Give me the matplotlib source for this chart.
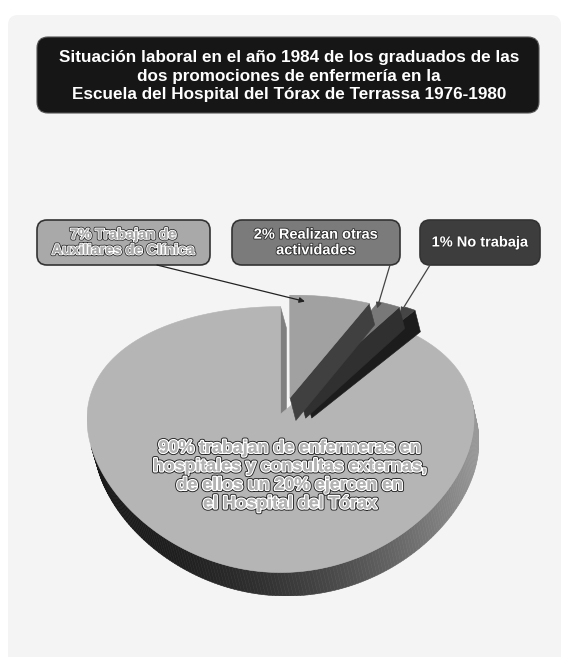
import numpy as np
import matplotlib
matplotlib.use("Agg")
import matplotlib.pyplot as plt
from matplotlib.patches import Polygon, FancyBboxPatch
import matplotlib.patheffects as pe

plt.rcParams['font.family'] = ['Liberation Sans', 'DejaVu Sans']

# data: shares clockwise from 12 o'clock
title = ("Situación laboral en el año 1984 de los graduados de las\n"
         "dos promociones de enfermería en la\n"
         "Escuela del Hospital del Tórax de Terrassa 1976-1980")
labels = ["7% Trabajan de\nAuxiliares de Clínica",
          "2% Realizan otras\nactividades",
          "1% No trabaja",
          "90% trabajan de enfermeras en\nhospitales y consultas externas,\n"
          "de ellos un 20% ejercen en\nel Hospital del Tórax"]
shares = [7, 2, 1, 90]

# style
top_grays = [0.63, 0.47, 0.27, 0.71]
box_fills = ["#a9a9a9", "#7b7b7b", "#3d3d3d"]
explode = [0.14, 0.18, 0.20, 0.0]
explode_turn = [-8, -5, -7, 0]
draw_order = [3, 2, 1, 0]
ELEV = np.radians(40)
DIST = 4.0
HPERSP = 0.2
SHEAR = 0.2
THICK = 0.154


def proj(p):
    x, y, z = p
    u = z * np.cos(ELEV) + y * np.sin(ELEV)
    d = y * np.cos(ELEV) - z * np.sin(ELEV)
    f = DIST / (DIST + d)
    return (x * f ** HPERSP - SHEAR * z, u * f)


def wall_shade(t):
    c = np.cos(t)
    return float(np.clip(0.22 + 0.25 * c + 0.13 * c * c, 0.04, 1))


def facing(pts):
    xy = np.array([proj(p) for p in pts])
    x, y = xy[:, 0], xy[:, 1]
    return 0.5 * np.sum(x * np.roll(y, -1) - np.roll(x, -1) * y) > 0


fig = plt.figure(figsize=(5.64, 6.57), dpi=100)
fig.patch.set_facecolor("white")
bg = fig.add_axes([0, 0, 1, 1])
bg.set_xlim(0, 564)
bg.set_ylim(657, 0)
bg.axis("off")

bg.add_patch(FancyBboxPatch((8, 15), 553, 680, boxstyle="round,pad=0,rounding_size=10",
                            fc="#f4f4f4", ec="none"))
bg.add_patch(FancyBboxPatch((37, 37), 502, 76, boxstyle="round,pad=0,rounding_size=11",
                            fc="#161616", ec="#555555", lw=0.8))
bg.text(289, 76, title, ha="center", va="center", color="white", fontsize=12.3,
        fontweight="bold", linespacing=1.3)

# build pie polygons, one list per slice
bounds = 90 - np.cumsum([0] + shares) * 3.6
slice_polys = []
targets = []
for i, s in enumerate(shares):
    a_hi, a_lo = np.radians(bounds[i]), np.radians(bounds[i + 1])
    mid = (a_hi + a_lo) / 2
    ed = mid + np.radians(explode_turn[i])
    off = explode[i] * np.array([np.cos(ed), np.sin(ed), 0])
    g = top_grays[i]
    apex = off.copy()
    apex_b = off + np.array([0, 0, -THICK])
    n = max(4, int(abs(bounds[i] - bounds[i + 1])))
    th = np.linspace(a_lo, a_hi, n + 1)

    def rim(t, z):
        return off + np.array([np.cos(t), np.sin(t), z])

    polys = []
    for k in range(n):
        t0, t1 = th[k], th[k + 1]
        quad = [rim(t0, 0), rim(t0, -THICK), rim(t1, -THICK), rim(t1, 0)]
        if facing(quad):
            col = wall_shade((t0 + t1) / 2) * g / 0.71
            polys.append((quad, (col, col, col)))
    face_hi = [apex, rim(a_hi, 0), rim(a_hi, -THICK), apex_b]
    face_lo = [apex, apex_b, rim(a_lo, -THICK), rim(a_lo, 0)]
    for face, fac in [(face_hi, 0.4), (face_lo, 0.7 if i == 3 else 0.4)]:
        if facing(face):
            col = g * fac
            polys.append((face, (col, col, col)))
    top = [apex] + [rim(t, 0) for t in th]
    polys.append((top, (g, g, g)))
    slice_polys.append(polys)
    ta = a_hi - 0.2 * (a_hi - a_lo)
    targets.append(proj(off + 0.93 * np.array([np.cos(ta), np.sin(ta), 0])))

allpts = np.array([proj(p) for polys in slice_polys for pts, _ in polys for p in pts])
xmin, ymin = allpts.min(axis=0)
xmax, ymax = allpts.max(axis=0)

W, H = 564, 657
left, right, top_px, bot_px = 87, 479, 295, 596
pax = fig.add_axes([left / W, 1 - bot_px / H, (right - left) / W, (bot_px - top_px) / H])
pax.set_xlim(xmin, xmax)
pax.set_ylim(ymin, ymax)
pax.axis("off")
pax.patch.set_alpha(0)

for i in draw_order:
    for pts, col in slice_polys[i]:
        xy = [proj(p) for p in pts]
        pax.add_patch(Polygon(xy, closed=True, fc=col, ec=col, lw=0.4))

# label boxes
boxes = [(37, 220, 173, 45), (232, 220, 168, 45), (420, 220, 120, 45)]
starts = [(157, 265), (390, 265), (430, 265)]
arrow_cols = ["#222222", "#444444", "#444444"]
small_outline = [pe.withStroke(linewidth=2.6, foreground="#222222"),
                 pe.withStroke(linewidth=1.5, foreground="white"), pe.Normal()]
big_outline = [pe.withStroke(linewidth=3.2, foreground="#222222"),
               pe.withStroke(linewidth=1.9, foreground="white"), pe.Normal()]
for i in range(3):
    x, y, w, h = boxes[i]
    bg.add_patch(FancyBboxPatch((x, y), w, h, boxstyle="round,pad=0,rounding_size=10",
                                fc=box_fills[i], ec="#333333", lw=1.2))
    if i == 0:
        bg.text(x + w / 2, y + h / 2, labels[i], ha="center", va="center", fontsize=10.5,
                fontweight="bold", color="#aaaaaa", linespacing=1.15,
                path_effects=small_outline)
    else:
        bg.text(x + w / 2, y + h / 2, labels[i], ha="center", va="center", fontsize=10.5,
                fontweight="bold", color="white", linespacing=1.15,
                path_effects=[pe.withStroke(linewidth=1.3, foreground="#333333")])
    pax.annotate("", xy=targets[i], xytext=starts[i], textcoords=bg.transData,
                 arrowprops=dict(arrowstyle="-|>", color=arrow_cols[i], lw=0.9,
                                 mutation_scale=8, shrinkA=0, shrinkB=0))

bg.set_zorder(0)
pax.set_zorder(1)
fig.text(290 / W, 1 - 476 / H, labels[3], ha="center", va="center", zorder=5,
         fontsize=12.8, fontweight="bold", color="#b3b3b3", linespacing=1.12,
         path_effects=big_outline)

fig.savefig("out.png", dpi=100)
